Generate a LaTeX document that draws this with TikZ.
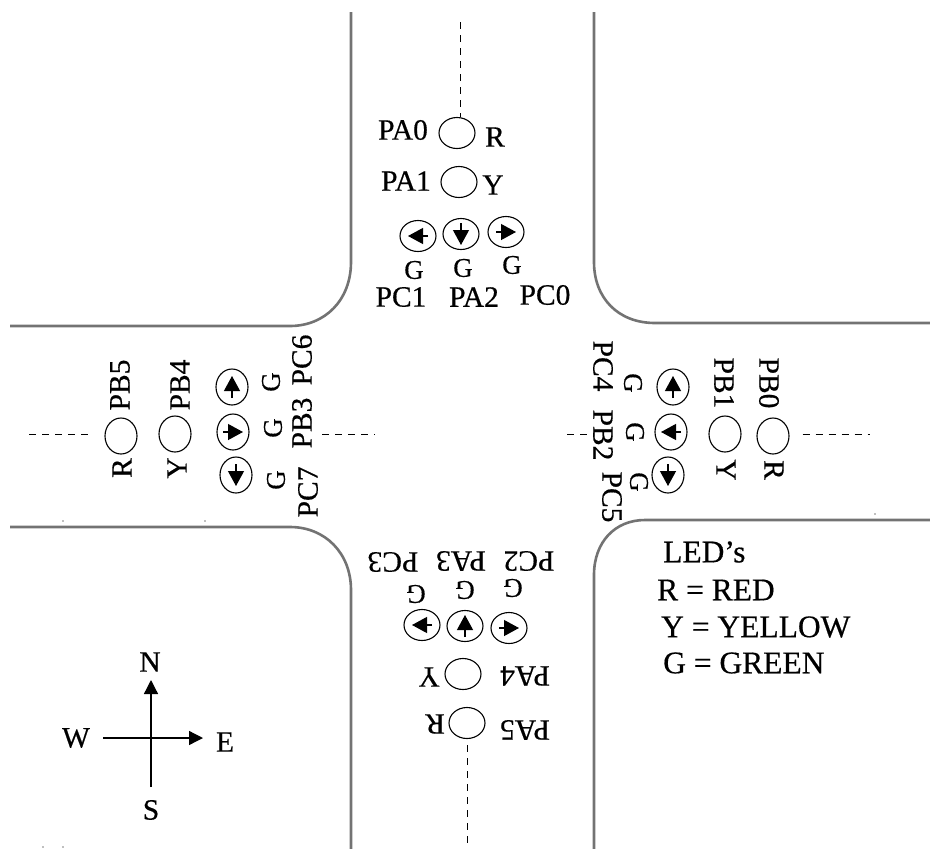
\documentclass[tikz,border=0pt]{standalone}
\usepackage{fontspec}
\setmainfont{Liberation Serif}[RawFeature={embolden=0.5}]
\usetikzlibrary{shapes.geometric,arrows.meta,calc}
\tikzset{
  road/.style={draw=black!55,line width=2.6pt},
  guide/.style={draw=black,line width=1pt,dash pattern=on 7pt off 6pt},
  lamp/.style={ellipse,draw=black,line width=1.1pt,inner sep=0pt,minimum width=#1},
  lamp/.default=36pt,
  vlamp/.style={lamp=32pt,minimum height=36pt},
  hlamp/.style={lamp=36pt,minimum height=31pt},
  pin/.style={font=\fontsize{29.5}{30}\selectfont,inner sep=0pt},
  small/.style={font=\fontsize{27}{27}\selectfont,inner sep=0pt},
  legend/.style={font=\fontsize{31.5}{32}\selectfont,inner sep=0pt,anchor=west},
  inner arrow/.style={-{Triangle[length=15pt,width=16pt]},line width=1.2pt},
  compass/.style={-{Triangle[length=14pt,width=14pt]},line width=1.3pt},
  speck/.style={fill=black!50,circle,inner sep=0pt,minimum size=1.6pt},
}
\newcommand{\arrowin}[3]{\draw[inner arrow] ($(#1)+(#2,#3)$) -- ($(#1)+(-#2,-#3)$);}
\begin{document}
\begin{tikzpicture}[x=1pt,y=-1pt]
\useasboundingbox (0,0) rectangle (930,849);
% roads
\draw[road] (351,12) -- (351,262) .. controls (351,300) and (325,326) .. (290,326) -- (10,326);
\draw[road] (10,527) -- (290,527) .. controls (325,527) and (351,553) .. (351,590) -- (351,849);
\draw[road] (594,12) -- (594,262) .. controls (594,298) and (618,323) .. (655,323) -- (930,323);
\draw[road] (930,520) -- (645,520) .. controls (615,520) and (594,542) .. (594,575) -- (594,849);
% north
\node[hlamp] (nr) at (457,133) {};
\node[hlamp] (ny) at (459,182) {};
\node[hlamp] (nl) at (418,236) {};
\node[hlamp] (ns) at (461,234) {};
\node[hlamp] (nrt) at (506,232) {};
\arrowin{nl}{10}{0}
\arrowin{ns}{0}{-11}
\arrowin{nrt}{-10}{0}
\node[pin] at (403,130) {PA0};
\node[pin] at (495,137) {R};
\node[pin] at (406,181) {PA1};
\node[pin] at (493,185) {Y};
\node[small] at (414,270) {G};
\node[small] at (463,268) {G};
\node[small] at (512,265) {G};
\node[pin] at (401,297) {PC1};
\node[pin] at (474,297) {PA2};
\node[pin] at (545,295) {PC0};
\coordinate (nend) at (460,22);
\draw[guide] (nend) -- (nr.north -| nend);
% south
\node[hlamp] (sr) at (467,723) {};
\node[hlamp] (sy) at (463,674) {};
\node[hlamp] (sl) at (422,625) {};
\node[hlamp] (ss) at (465,626) {};
\node[hlamp] (srt) at (509,628) {};
\arrowin{sl}{10}{0}
\arrowin{ss}{0}{11}
\arrowin{srt}{-10}{0}
\node[pin,rotate=180] at (525,730) {PA5};
\node[pin,rotate=180] at (435,724) {R};
\node[pin,rotate=180] at (525,676) {PA4};
\node[pin,rotate=180] at (429,677) {Y};
\node[small,rotate=180] at (416,594) {G};
\node[small,rotate=180] at (465,590) {G};
\node[small,rotate=180] at (513,588) {G};
\node[pin,rotate=180] at (393,562) {PC3};
\node[pin,rotate=180] at (461,561) {PA3};
\node[pin,rotate=180] at (529,561) {PC2};
\coordinate (send) at (467,849);
\draw[guide,shorten <=6pt] (sr.south -| send) -- (send);
% west
\node[vlamp] (wr) at (121,436) {};
\node[vlamp] (wy) at (175,434) {};
\node[vlamp] (wu) at (232,387) {};
\node[vlamp] (wt) at (233,432) {};
\node[vlamp] (wd) at (236,475) {};
\arrowin{wu}{0}{11}
\arrowin{wt}{-10}{0}
\arrowin{wd}{0}{-11}
\node[pin,rotate=90] at (120,385) {PB5};
\node[pin,rotate=90] at (122,468) {R};
\node[pin,rotate=90] at (180,385) {PB4};
\node[pin,rotate=90] at (177,468) {Y};
\node[small,rotate=90] at (271,382) {G};
\node[small,rotate=90] at (273,428) {G};
\node[small,rotate=90] at (276,480) {G};
\node[pin,rotate=90] at (302,360) {PC6};
\node[pin,rotate=90] at (302,423) {PB3};
\node[pin,rotate=90] at (308,492) {PC7};
\coordinate (wend) at (29,434);
\coordinate (wcross) at (375,434);
\coordinate (wstart) at (322,434);
\draw[guide,shorten >=13pt] (wend) -- (wr.west |- wend);
\draw[guide] (wstart) -- (wcross);
% east
\node[vlamp] (er) at (773,436) {};
\node[vlamp] (ey) at (725,434) {};
\node[vlamp] (eu) at (673,387) {};
\node[vlamp] (et) at (671,432) {};
\node[vlamp] (ed) at (668,475) {};
\arrowin{eu}{0}{11}
\arrowin{et}{10}{0}
\arrowin{ed}{0}{-11}
\node[pin,rotate=-90] at (769,383) {PB0};
\node[pin,rotate=-90] at (774,470) {R};
\node[pin,rotate=-90] at (724,383) {PB1};
\node[pin,rotate=-90] at (726,470) {Y};
\node[small,rotate=-90] at (633,383) {G};
\node[small,rotate=-90] at (635,432) {G};
\node[small,rotate=-90] at (639,482) {G};
\node[pin,rotate=-90] at (603,366) {PC4};
\node[pin,rotate=-90] at (603,435) {PB2};
\node[pin,rotate=-90] at (612,497) {PC5};
\coordinate (eend) at (870,434);
\coordinate (ecross) at (567,434);
\coordinate (ecrossb) at (587,434);
\draw[guide,shorten <=13pt] (er.east |- eend) -- (eend);
\draw[guide] (ecross) -- (ecrossb);
% legend
\node[legend] at (663,552) {LED's};
\node[legend] at (657,590) {R = RED};
\node[legend] at (661,627) {Y = YELLOW};
\node[legend] at (663,663) {G = GREEN};
% compass
\node[pin] (cn) at (150,662) {N};
\node[pin] (cs) at (151,810) {S};
\node[pin] (cw) at (76,738) {W};
\node[pin] (ce) at (225,742) {E};
\coordinate (ctip) at (151,680);
\coordinate (ctail) at (151,787);
\coordinate (wtail) at (103,738);
\coordinate (etip) at (203,738);
\draw[compass] (ctail) -- (ctip);
\draw[compass] (wtail) -- (etip);
% specks
\node[speck] at (63,521) {};
\node[speck] at (205,521) {};
\node[speck] at (875,514) {};
\node[speck] at (43,847) {};
\node[speck] at (63,847) {};
\end{tikzpicture}
\end{document}
